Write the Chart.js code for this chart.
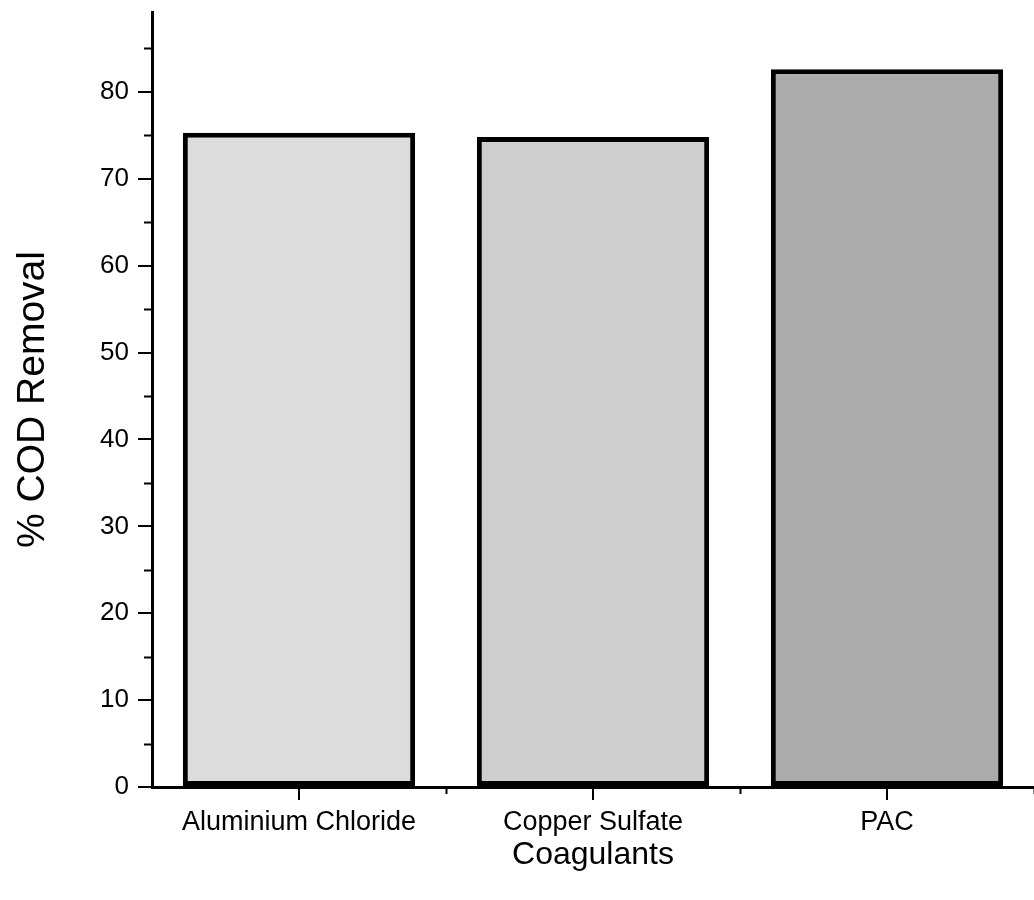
<!DOCTYPE html>
<html>
<head>
<meta charset="utf-8">
<script src="https://cdn.jsdelivr.net/npm/chart.js@4"></script>
<style>
  html, body { margin: 0; padding: 0; background: #fff; overflow: hidden; }
  #wrap { width: 1034px; height: 900px; }
</style>
</head>
<body>
<div id="wrap"><canvas id="chart" width="1034" height="900"></canvas></div>
<script>
// Data
const coagulants = ['Aluminium Chloride', 'Copper Sulfate', 'PAC'];
const codRemoval = [75.3, 74.8, 82.6];
const barFills = ['#dcdcdc', '#cecece', '#ababab'];
const yMajorTicks = [0, 10, 20, 30, 40, 50, 60, 70, 80];
const yMinorTicks = [5, 15, 25, 35, 45, 55, 65, 75, 85];

const FONT = '"Liberation Sans", Arial, sans-serif';

// small ticks between the major ones (y) and between categories (x)
const minorTicks = {
  id: 'minorTicks',
  afterDraw(chart) {
    const ctx = chart.ctx;
    const y = chart.scales.y;
    const x = chart.scales.x;
    ctx.save();
    ctx.strokeStyle = '#000';
    ctx.lineWidth = 2;
    ctx.beginPath();
    yMinorTicks.forEach(v => {
      const py = Math.round(y.getPixelForValue(v)) + 0.5;
      ctx.moveTo(y.right - 8, py);
      ctx.lineTo(y.right, py);
    });
    const step = x.getPixelForValue(1) - x.getPixelForValue(0);
    for (let i = 0; i < coagulants.length; i++) {
      const px = Math.round(x.getPixelForValue(i) + step / 2) + 0.5;
      ctx.moveTo(px, x.top);
      ctx.lineTo(px, x.top + 7);
    }
    ctx.stroke();
    ctx.restore();
  }
};

new Chart(document.getElementById('chart'), {
  type: 'bar',
  data: {
    labels: coagulants,
    datasets: [{
      data: codRemoval,
      backgroundColor: barFills,
      borderColor: '#000',
      borderWidth: 5,
      borderSkipped: false,
      categoryPercentage: 1,
      barPercentage: 0.79
    }]
  },
  options: {
    responsive: false,
    animation: false,
    layout: { padding: { top: 12, left: 0, right: 0, bottom: 0 } },
    plugins: {
      legend: { display: false },
      tooltip: { enabled: false }
    },
    scales: {
      x: {
        grid: {
          display: true,
          drawOnChartArea: false,
          offset: false,
          color: '#000',
          lineWidth: 2,
          tickLength: 13
        },
        border: { display: true, color: '#000', width: 3 },
        ticks: {
          color: '#000',
          font: { family: FONT, size: 27 },
          padding: 6,
          maxRotation: 0
        },
        title: {
          display: true,
          text: 'Coagulants',
          color: '#000',
          font: { family: FONT, size: 32 },
          padding: { top: 0, bottom: 26 }
        },
        afterFit(scale) {
          scale.height = 113;
          scale.paddingLeft = 0;
          scale.paddingRight = 0;
        }
      },
      y: {
        min: 0,
        max: 89.2,
        afterBuildTicks(scale) {
          scale.ticks = yMajorTicks.map(v => ({ value: v }));
        },
        grid: {
          display: true,
          drawOnChartArea: false,
          color: '#000',
          lineWidth: 2,
          tickLength: 14
        },
        border: { display: true, color: '#000', width: 3 },
        ticks: {
          color: '#000',
          font: { family: FONT, size: 26 },
          padding: 9
        },
        title: {
          display: true,
          text: '% COD Removal',
          color: '#000',
          font: { family: FONT, size: 39 },
          padding: { top: 10, bottom: 0 }
        },
        afterFit(scale) {
          scale.width = 152;
          scale.paddingTop = 0;
          scale.paddingBottom = 0;
        }
      }
    }
  },
  plugins: [minorTicks]
});
</script>
</body>
</html>
